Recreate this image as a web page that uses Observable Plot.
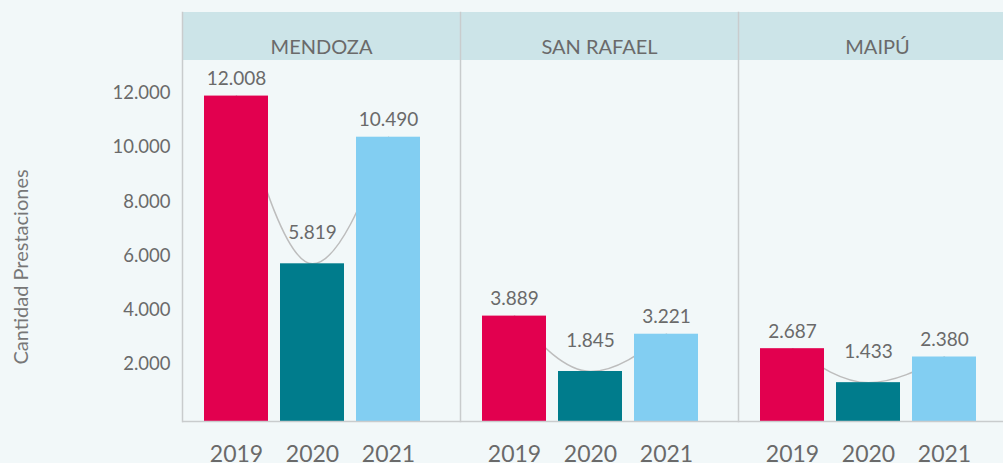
<!DOCTYPE html>
<html><head><meta charset="utf-8">
<script src="https://cdn.jsdelivr.net/npm/d3@7"></script>
<script src="https://cdn.jsdelivr.net/npm/@observablehq/plot@0.6"></script>
<style>
html,body{margin:0;padding:0;background:#f2f8f9;overflow:hidden;}
#chart{width:1003px;height:463px;overflow:hidden;}
#chart svg{max-width:none !important;}
</style></head><body><div id="chart"></div>
<script>
const regions = ["MENDOZA", "SAN RAFAEL", "MAIPÚ"];
const years = ["2019", "2020", "2021"];
const mendoza = [12008, 5819, 10490];
const sanRafael = [3889, 1845, 3221];
const maipu = [2687, 1433, 2380];
const yTicks = [2000, 4000, 6000, 8000, 10000, 12000];
const yearColors = ["#e2004f", "#007c8c", "#82cef2"];
const yLabel = "Cantidad Prestaciones";

const series = [mendoza, sanRafael, maipu];
const data = regions.flatMap((r, i) => years.map((y, j) => ({region: r, year: y, value: series[i][j]})));
const locale = d3.formatLocale({decimal: ",", thousands: ".", grouping: [3], currency: ["$", ""]});
const fmt = locale.format(",d");
const font = "Lato, 'Open Sans', sans-serif";
const textColor = "#6a6a6a";
const lineColor = "#c9cccd";

const chart = Plot.plot({
  width: 1016, height: 463,
  marginLeft: 181, marginRight: 0, marginTop: 12, marginBottom: 42,
  style: {background: "transparent", fontFamily: font, color: textColor, fontSize: "17px", overflow: "visible", maxWidth: "none"},
  fx: {domain: regions, padding: 0, axis: null},
  x: {domain: years, paddingInner: 0.157, paddingOuter: 0.4, align: 0.35},
  y: {domain: [0, 15092]},
  color: {domain: years, range: yearColors},
  marks: [
    Plot.rect(regions.map(r => ({region: r})), {fx: "region", fill: "#cce4e8", insetBottom: 361}),
    Plot.text(regions.map(r => ({region: r})), {fx: "region", text: "region", frameAnchor: "top", dy: 27, fontSize: 20, fill: textColor, letterSpacing: "0.8px"}),
    Plot.frame({anchor: "left", stroke: lineColor, strokeWidth: 1.5}),
    Plot.line(data, {fx: "region", x: "year", y: "value", curve: "monotone-x", stroke: "#bdbdbd", strokeWidth: 1.5}),
    Plot.barY(data, {fx: "region", x: "year", y: "value", fill: "year"}),
    Plot.ruleY([0], {stroke: lineColor, strokeWidth: 1.5}),
    Plot.text(data.filter(d => d.year !== "2020"), {fx: "region", x: "year", y: "value", text: d => fmt(d.value), dy: -17, fontSize: 19, fill: textColor}),
    Plot.text(data.filter(d => d.year === "2020"), {fx: "region", x: "year", y: "value", text: d => fmt(d.value), dy: -31, fontSize: 19, fill: textColor}),
    Plot.axisY({ticks: yTicks, tickFormat: fmt, tickSize: 0, tickPadding: 12, fontSize: 18.5, dy: -3, label: null, fill: textColor}),
    Plot.axisX({tickSize: 0, tickPadding: 24, fontSize: 23, label: null, fill: textColor}),
    Plot.text([{region: "MENDOZA", label: yLabel}], {fx: "region", text: "label", frameAnchor: "left", textAnchor: "middle", rotate: -90, dx: -161, dy: 50, fontSize: 20, fill: "#777"})
  ]
});
document.getElementById("chart").append(chart);
</script></body></html>
